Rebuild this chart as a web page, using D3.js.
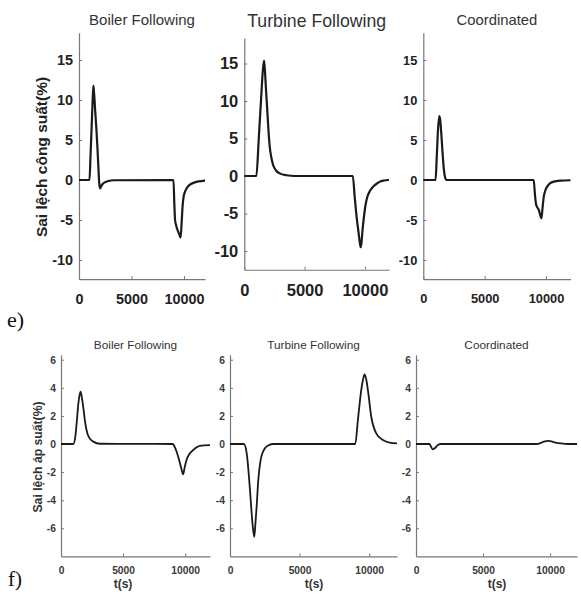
<!DOCTYPE html>
<html><head><meta charset="utf-8">
<script src="https://cdn.jsdelivr.net/npm/d3@7"></script>
<style>body{margin:0;background:#fff}svg{display:block}</style>
</head><body>
<svg id="c" width="581" height="594"></svg>
<script>
// ---------- data ----------
const panelTitles = ["Boiler Following", "Turbine Following", "Coordinated"];
const xTicks = [0, 5000, 10000];
const powerTicks = [-10, -5, 0, 5, 10, 15];
const pressureTicks = [-6, -4, -2, 0, 2, 4, 6];
const powerLabel = "Sai lệch công suất(%)";
const pressureLabel = "Sai lệch áp suất(%)";
const timeLabel = "t(s)";

// power deviation (row e)
const tPowerBF = [0,1000,1100,1200,1300,1370,1450,1550,1650,1750,1850,1920,2000,2100,2250,2450,2800,3300,9000,9080,9150,9280,9400,9550,9680,9780,9870,9960,10150,10340,10600,10970,11400,12000];
const powerBF  = [0,0,3.2,6.5,10,11.8,10.6,8.5,6.5,4.2,1.5,-0.3,-1.05,-0.8,-0.5,-0.3,-0.12,-0.03,0,-3,-5,-5.8,-6.3,-6.8,-7.2,-5.2,-3.2,-2.1,-1.3,-0.85,-0.55,-0.33,-0.18,-0.08];

const tPowerTF = [0,1000,1200,1400,1550,1640,1720,1800,1890,2000,2110,2250,2390,2650,2940,3490,4200,9000,9150,9310,9480,9580,9650,9720,9800,9925,10050,10200,10450,10700,11000,11250,11600,12000];
const powerTF  = [0,0,5,10.5,14.3,15.4,13.8,11.5,9.2,6.2,3.9,2.4,1.47,0.7,0.35,0.1,0,0,-2.7,-5.4,-7.6,-8.9,-9.5,-8.9,-7.3,-5.4,-3.9,-2.8,-1.9,-1.4,-1.0,-0.75,-0.6,-0.5];

const tPowerCO = [0,1000,1100,1200,1300,1380,1480,1580,1700,1800,1900,9000,9100,9200,9420,9630,9720,9820,9950,10100,10350,10640,11200,12000];
const powerCO  = [0,0,3,6.3,8,7.5,5.5,3.2,1.0,0.2,0,0,-1.8,-3.1,-3.75,-4.8,-3.5,-2.1,-1.3,-0.83,-0.4,-0.2,-0.08,-0.03];

// pressure deviation (row f)
const tPresBF = [0,1000,1150,1260,1400,1500,1580,1680,1790,1950,2120,2350,2600,3150,9000,9200,9440,9650,9840,9950,10110,10350,10650,11180,12000];
const presBF  = [0,0,0.5,1.47,2.9,3.5,3.72,3.3,2.65,1.5,0.76,0.35,0.17,0.02,0,-0.3,-0.9,-1.6,-2.16,-1.7,-1.14,-0.7,-0.43,-0.14,-0.08];

const tPresTF = [0,1000,1200,1436,1555,1650,1746,1830,1914,2033,2200,2350,2510,2800,3110,9000,9190,9430,9560,9670,9790,9910,10150,10510,10990,11470,12000];
const presTF  = [0,0,-0.66,-3.27,-4.93,-6.0,-6.6,-5.6,-4.46,-2.56,-1.14,-0.6,-0.3,-0.08,0,0,1.7,3.84,4.6,4.96,4.6,3.84,1.94,0.76,0.28,0.1,0.05];

const tPresCO = [0,1000,1100,1240,1400,1600,1800,9000,9300,9600,9800,10000,10400,10800,11300,12000];
const presCO  = [0,0,-0.15,-0.38,-0.3,-0.1,0,0,0.08,0.18,0.22,0.2,0.1,0.04,0,0];

// ---------- layout ----------
const svg = d3.select("#c");
const FONT = "'Liberation Sans', Arial, sans-serif";

const panels = [
  {t:tPowerBF, v:powerBF, title:panelTitles[0], ticks:powerTicks, x0:79, x1:205, ydom:[-12.4,18.4], y0:279.2, y1:32.8, tick:14.4, titleSize:15, titleY:25, labY:299, sw:2.2},
  {t:tPowerTF, v:powerTF, title:panelTitles[1], ticks:powerTicks, x0:244.3, x1:389, ydom:[-12.5,18.4], y0:269.75, y1:38, tick:16.5, titleSize:17.7, titleY:27, labY:290, sw:2.2},
  {t:tPowerCO, v:powerCO, title:panelTitles[2], ticks:powerTicks, x0:423.3, x1:570.5, ydom:[-12.4,18.4], y0:279.2, y1:32.8, tick:12.8, titleSize:14.8, titleY:25, labY:298, sw:2.2},
  {t:tPresBF, v:presBF, title:panelTitles[0], ticks:pressureTicks, x0:61, x1:210, ydom:[-8,6.35], y0:556.4, y1:354.8, tick:10.3, titleSize:11.8, titleY:349, labY:570, sw:1.8, bottom:true},
  {t:tPresTF, v:presTF, title:panelTitles[1], ticks:pressureTicks, x0:230, x1:397, ydom:[-8,6.35], y0:556.4, y1:354.8, tick:10.3, titleSize:11.8, titleY:349, labY:570, sw:1.8, bottom:true},
  {t:tPresCO, v:presCO, title:panelTitles[2], ticks:pressureTicks, x0:416, x1:577, ydom:[-8,6.35], y0:556.4, y1:354.8, tick:10.3, titleSize:11.8, titleY:349, labY:570, sw:1.8, bottom:true}
];

panels.forEach(p => {
  const x = d3.scaleLinear().domain([0,12000]).range([p.x0, p.x1]);
  const y = d3.scaleLinear().domain(p.ydom).range([p.y0, p.y1]);
  const g = svg.append("g");

  const xa = g.append("g").attr("transform", `translate(0,${p.y0})`)
    .call(d3.axisBottom(x).tickValues(xTicks).tickFormat(d3.format("d")).tickSize(-3).tickSizeOuter(0).tickPadding(0));
  const ya = g.append("g").attr("transform", `translate(${p.x0},0)`)
    .call(d3.axisLeft(y).tickValues(p.ticks).tickFormat(d => d).tickSize(-3).tickSizeOuter(0).tickPadding(p.bottom ? 5 : 6));
  [xa, ya].forEach(a => {
    a.select(".domain").attr("stroke", "#777").attr("stroke-width", 1.2);
    a.selectAll(".tick line").attr("stroke", "#777");
    a.selectAll(".tick text").attr("font-family", FONT).attr("font-weight", "bold")
      .attr("font-size", p.tick).attr("fill", p.bottom ? "#3a3a3a" : "#222");
  });
  xa.selectAll(".tick text").attr("y", null).attr("dy", null)
    .attr("transform", `translate(0,${p.labY - p.y0})`).attr("dominant-baseline", "central");

  g.append("text").attr("x", (p.x0 + p.x1) / 2).attr("y", p.titleY)
    .attr("text-anchor", "middle").attr("font-family", FONT).attr("font-size", p.titleSize)
    .attr("fill", "#333").text(p.title);

  const line = d3.line().x((d, i) => x(p.t[i])).y(d => y(d)).curve(d3.curveMonotoneX);
  g.append("path").attr("d", line(p.v)).attr("fill", "none")
    .attr("stroke", "#1a1a1a").attr("stroke-width", p.sw).attr("stroke-linejoin", "round");
});

// axis titles
svg.append("text").attr("transform", "translate(47,157) rotate(-90)")
  .attr("text-anchor", "middle").attr("font-family", FONT).attr("font-weight", "bold")
  .attr("font-size", 15.5).attr("fill", "#222").text(powerLabel);
svg.append("text").attr("transform", "translate(42,457) rotate(-90)")
  .attr("text-anchor", "middle").attr("font-family", FONT).attr("font-weight", "bold")
  .attr("font-size", 12.2).attr("fill", "#333").text(pressureLabel);
[123, 314, 497].forEach(cx => {
  svg.append("text").attr("x", cx).attr("y", 588).attr("text-anchor", "middle")
    .attr("font-family", FONT).attr("font-weight", "bold").attr("font-size", 12).attr("fill", "#333").text(timeLabel);
});

// panel letters
svg.append("text").attr("x", 7).attr("y", 327).attr("font-family", "'Liberation Serif', 'Times New Roman', serif")
  .attr("font-size", 22).attr("fill", "#111").text("e)");
svg.append("text").attr("x", 8).attr("y", 586).attr("font-family", "'Liberation Serif', 'Times New Roman', serif")
  .attr("font-size", 21).attr("fill", "#111").text("f)");
</script>
</body></html>
